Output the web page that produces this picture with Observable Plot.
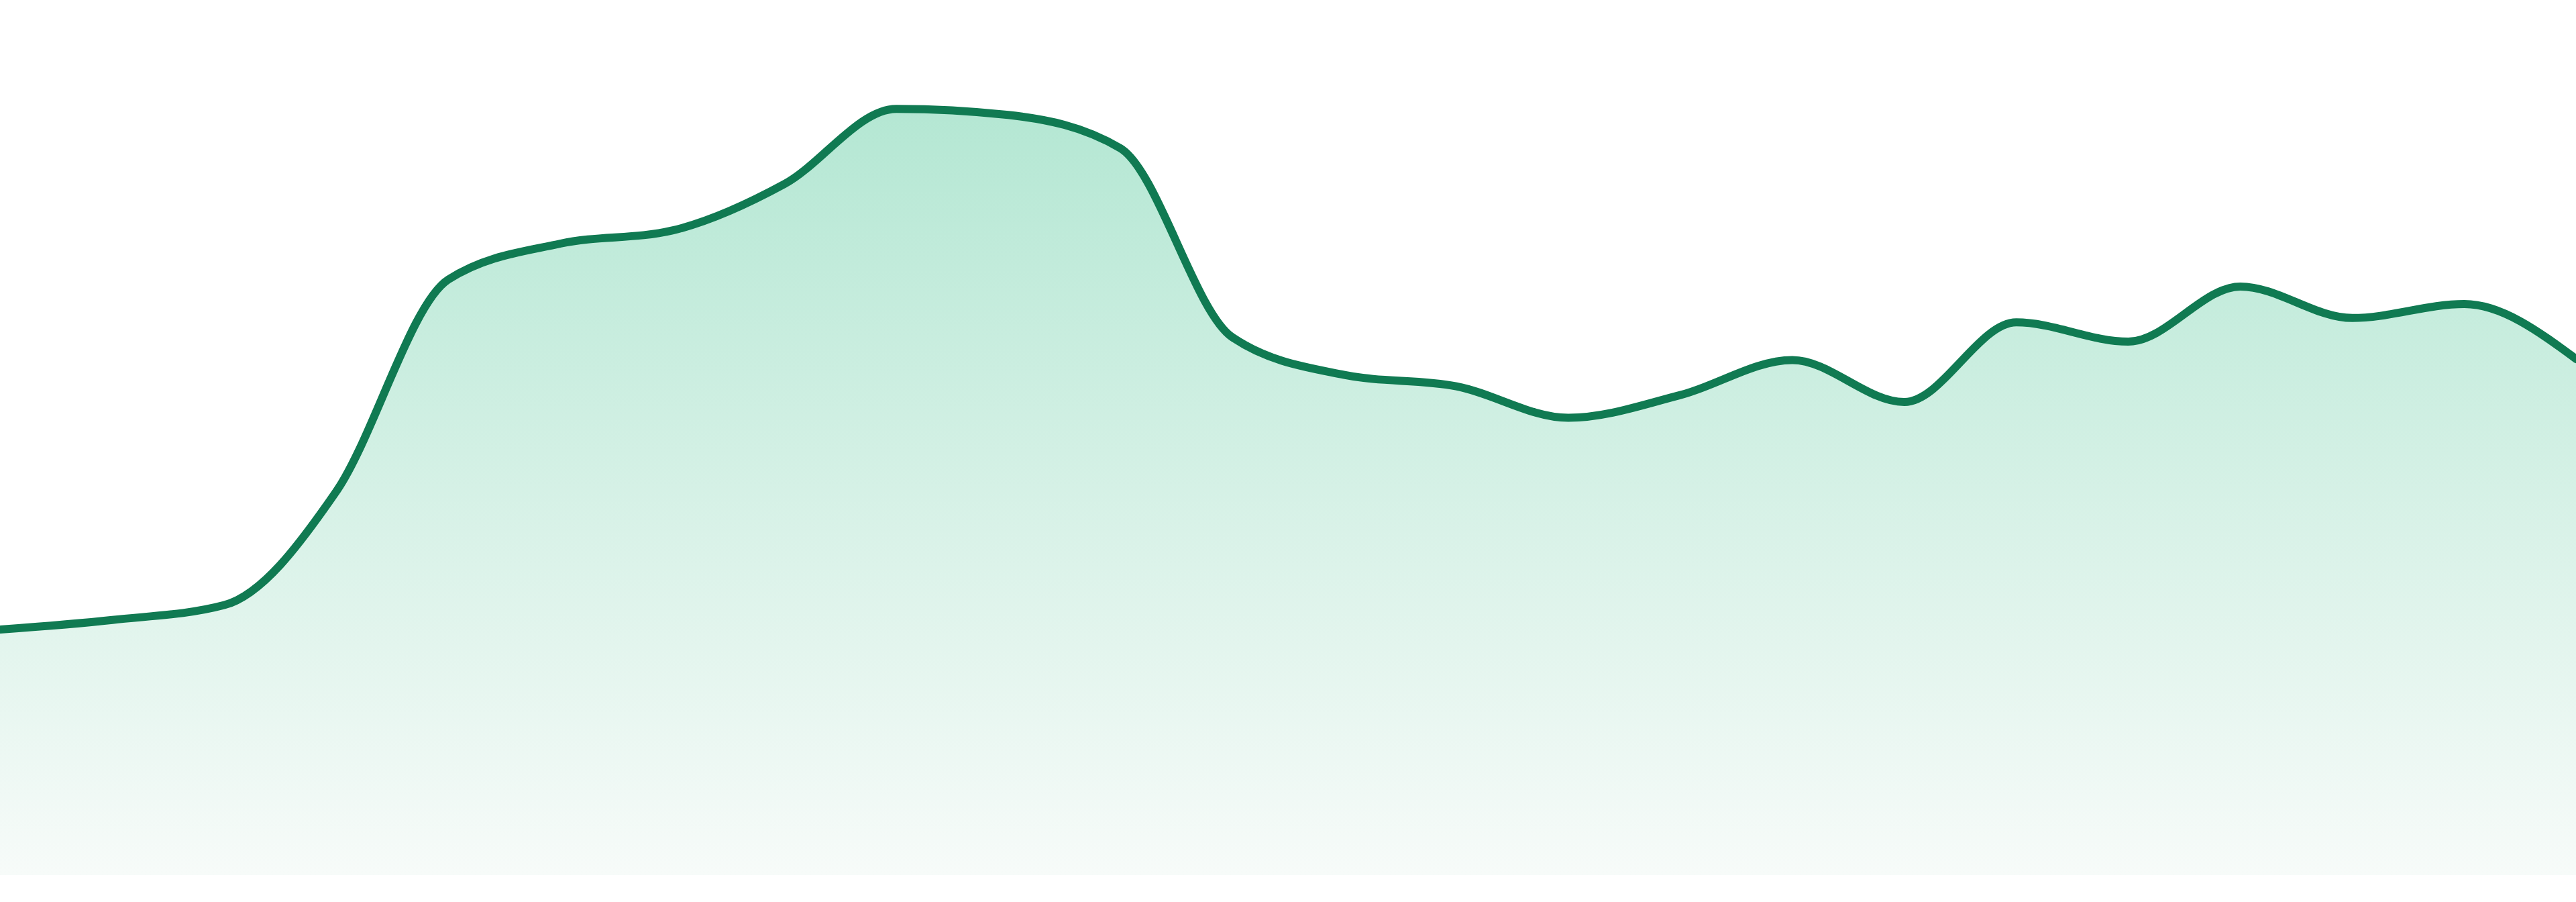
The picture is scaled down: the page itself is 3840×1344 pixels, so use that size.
<!DOCTYPE html>
<html>
<head>
<meta charset="utf-8">
<script src="https://cdn.jsdelivr.net/npm/d3@7"></script>
<script src="https://cdn.jsdelivr.net/npm/@observablehq/plot@0.6"></script>
<style>
  html, body { margin: 0; padding: 0; background: #ffffff; }
  #chart svg { display: block; }
</style>
</head>
<body>
<div id="chart"></div>
<script>
// Series: 24 equally spaced observations
const index = d3.range(24);
const values = [28.1, 29.2, 30.9, 43.9, 68.1, 72.2, 73.7, 79.0, 87.6, 86.9, 83.1, 61.5,
                57.2, 55.9, 52.3, 54.9, 58.9, 54.1, 63.2, 61.0, 67.3, 63.7, 65.3, 59.0];
const yDomain = [0, 100];

const data = index.map((i) => ({i, v: values[i]}));

const gradientDefs = () => {
  const g = document.createElementNS("http://www.w3.org/2000/svg", "g");
  g.innerHTML = `<defs>
    <linearGradient id="areaFill" x1="0" y1="0" x2="0" y2="1">
      <stop offset="0" stop-color="rgb(180,231,211)"/>
      <stop offset="1" stop-color="rgb(247,251,249)"/>
    </linearGradient>
  </defs>`;
  return g;
};

const chart = Plot.plot({
  width: 3840,
  height: 1344,
  marginTop: 0,
  marginRight: 0,
  marginBottom: 40,
  marginLeft: 0,
  x: {domain: [0, 23], axis: null},
  y: {domain: yDomain, axis: null},
  marks: [
    gradientDefs,
    Plot.areaY(data, {x: "i", y: "v", curve: "monotone-x", fill: "url(#areaFill)"}),
    Plot.lineY(data, {x: "i", y: "v", curve: "monotone-x", stroke: "#107a52", strokeWidth: 12})
  ]
});
document.getElementById("chart").appendChild(chart);
</script>
</body>
</html>
